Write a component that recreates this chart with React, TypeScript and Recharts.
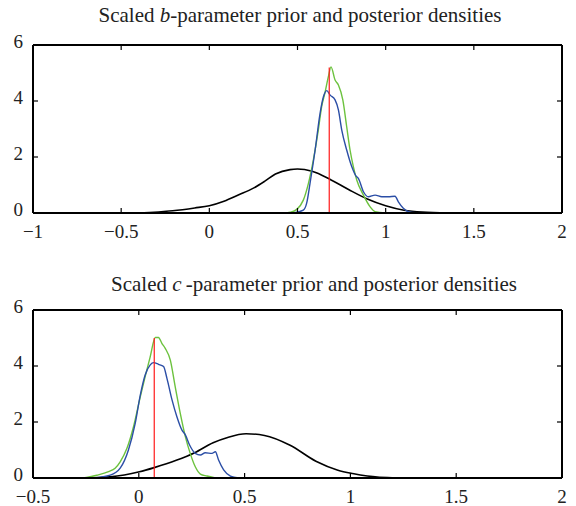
import { Line, LineChart, ReferenceLine, XAxis, YAxis } from 'recharts'

const yTicks = [0, 2, 4, 6]
const bXTicks = [-1, -0.5, 0, 0.5, 1, 1.5, 2]
const cXTicks = [-0.5, 0, 0.5, 1, 1.5, 2]

// b-parameter panel
const bPriorX = [-0.4, -0.208, -0.083, 0, 0.083, 0.167, 0.25, 0.313, 0.375, 0.458, 0.5, 0.583, 0.688, 0.792, 0.896, 1.0, 1.104, 1.208, 1.354]
const bPriorY = [0, 0.08, 0.18, 0.26, 0.42, 0.65, 0.89, 1.13, 1.39, 1.55, 1.57, 1.49, 1.19, 0.83, 0.5, 0.26, 0.1, 0.03, 0]
const bGreenX = [0.42, 0.46, 0.496, 0.533, 0.562, 0.59, 0.618, 0.637, 0.656, 0.675, 0.69, 0.713, 0.732, 0.757, 0.779, 0.798, 0.817, 0.836, 0.874, 0.911, 0.94, 1.0]
const bGreenY = [0, 0.03, 0.13, 0.46, 1.06, 1.9, 2.96, 3.8, 4.3, 4.87, 5.22, 4.75, 4.57, 4.04, 3.08, 2.25, 1.65, 1.18, 0.64, 0.23, 0.05, 0]
const bBlueX = [0.477, 0.533, 0.552, 0.571, 0.6, 0.628, 0.647, 0.666, 0.685, 0.713, 0.732, 0.751, 0.779, 0.808, 0.832, 0.845, 0.874, 0.902, 0.94, 0.978, 1.015, 1.053, 1.072, 1.1, 1.138, 1.21]
const bBlueY = [0, 0.1, 0.35, 1.06, 2.25, 3.56, 4.15, 4.37, 4.21, 4.04, 3.68, 2.96, 2.25, 1.65, 1.32, 1.24, 0.76, 0.58, 0.64, 0.58, 0.58, 0.6, 0.4, 0.17, 0.03, 0]
const bTrue = [0.68, 5.2]

// c-parameter panel
const cPriorX = [-0.257, -0.135, 0.003, 0.073, 0.177, 0.264, 0.351, 0.42, 0.507, 0.594, 0.715, 0.837, 0.941, 1.01, 1.08, 1.219]
const cPriorY = [0, 0.04, 0.22, 0.37, 0.63, 0.9, 1.26, 1.45, 1.58, 1.52, 1.17, 0.6, 0.28, 0.16, 0.07, 0]
const cGreenX = [-0.262, -0.198, -0.143, -0.112, -0.088, -0.056, -0.025, 0.007, 0.03, 0.054, 0.078, 0.093, 0.109, 0.125, 0.149, 0.172, 0.196, 0.22, 0.243, 0.267, 0.291, 0.322, 0.362]
const cGreenY = [0, 0.1, 0.23, 0.35, 0.58, 1.06, 1.83, 2.9, 3.62, 4.33, 5.02, 5.02, 4.81, 4.63, 4.21, 3.26, 2.31, 1.48, 0.88, 0.4, 0.14, 0.07, 0]
const cBlueX = [-0.214, -0.135, -0.088, -0.049, -0.017, 0.007, 0.03, 0.054, 0.07, 0.093, 0.117, 0.133, 0.157, 0.18, 0.204, 0.22, 0.24, 0.267, 0.291, 0.314, 0.346, 0.362, 0.377, 0.401, 0.433, 0.472]
const cBlueY = [0, 0.1, 0.35, 1.0, 1.95, 2.96, 3.68, 4.04, 4.12, 4.06, 3.98, 3.56, 2.79, 2.19, 1.71, 1.54, 1.18, 0.88, 0.82, 0.9, 0.88, 0.94, 0.64, 0.29, 0.07, 0]
const cTrue = [0.073, 5.0]

const FONT = '"Liberation Serif", "DejaVu Serif", serif'
const GREEN = '#6cc23e'
const BLUE = '#2b4ea6'
const RED = '#ff1a1a'

const pts = (xs: number[], ys: number[]) => xs.map((x, i) => ({ x, y: ys[i] }))

const fmt = (v: number) => (v < 0 ? '\u2212' + Math.abs(v) : String(v))

const XTick = ({ x, y, payload }: any) => (
  <g>
    <line x1={x} y1={y} x2={x} y2={y - 5} stroke="#000" strokeWidth={1.2} />
    <text x={x} y={y + 25} textAnchor="middle" fontFamily={FONT} fontSize={19} fill="#222">
      {fmt(payload.value)}
    </text>
  </g>
)

const YTick = ({ x, y, payload }: any) => (
  <g>
    <line x1={x} y1={y} x2={x + 5} y2={y} stroke="#000" strokeWidth={1.2} />
    <text x={x - 10} y={y + 3} textAnchor="end" fontFamily={FONT} fontSize={19} fill="#222">
      {fmt(payload.value)}
    </text>
  </g>
)

type PanelProps = {
  xTicks: number[]
  prior: { x: number; y: number }[]
  green: { x: number; y: number }[]
  blue: { x: number; y: number }[]
  truth: number[]
  height: number
  top: number
}

const Panel = ({ xTicks, prior, green, blue, truth, height, top }: PanelProps) => {
  const xMin = xTicks[0]
  const xMax = xTicks[xTicks.length - 1]
  const yMax = yTicks[yTicks.length - 1]
  const plotW = 529
  const plotH = 168
  const xLen = ((xMax - xMin) * 5) / plotW
  const yLen = (yMax * 5) / plotH
  const redLine = [
    { x: truth[0], y: 0 },
    { x: truth[0], y: truth[1] },
  ]
  return (
    <LineChart
      width={576}
      height={height}
      margin={{ top, right: 14, bottom: height - top - plotH - 1, left: 32 }}
    >
      <XAxis
        dataKey="x"
        type="number"
        domain={[xMin, xMax]}
        ticks={xTicks}
        interval={0}
        height={1}
        tickSize={0}
        tickMargin={0}
        tickLine={false}
        tick={<XTick />}
        axisLine={{ stroke: '#000', strokeWidth: 2 }}
        allowDataOverflow
      />
      <YAxis
        type="number"
        domain={[0, yMax]}
        ticks={yTicks}
        interval={0}
        width={1}
        tickSize={0}
        tickMargin={0}
        tickLine={false}
        tick={<YTick />}
        axisLine={{ stroke: '#000', strokeWidth: 2 }}
        allowDataOverflow
      />
      <ReferenceLine y={yMax} stroke="#000" strokeWidth={2} ifOverflow="visible" />
      <ReferenceLine x={xMax} stroke="#000" strokeWidth={2} ifOverflow="visible" />
      <ReferenceLine y={0} stroke="#000" strokeWidth={2} ifOverflow="visible" />
      <ReferenceLine x={xMin} stroke="#000" strokeWidth={2} ifOverflow="visible" />
      {xTicks.slice(1, -1).map((t) => (
        <ReferenceLine
          key={'tx' + t}
          segment={[
            { x: t, y: yMax },
            { x: t, y: yMax - yLen },
          ]}
          stroke="#000"
          strokeWidth={1.2}
          ifOverflow="visible"
        />
      ))}
      {yTicks.slice(1, -1).map((t) => (
        <ReferenceLine
          key={'ty' + t}
          segment={[
            { x: xMax, y: t },
            { x: xMax - xLen, y: t },
          ]}
          stroke="#000"
          strokeWidth={1.2}
          ifOverflow="visible"
        />
      ))}
      <Line data={prior} dataKey="y" type="monotone" stroke="#000" strokeWidth={1.6} dot={false} isAnimationActive={false} />
      <Line data={green} dataKey="y" type="monotone" stroke={GREEN} strokeWidth={1.4} dot={false} isAnimationActive={false} />
      <Line data={blue} dataKey="y" type="monotone" stroke={BLUE} strokeWidth={1.4} dot={false} isAnimationActive={false} />
      <Line data={redLine} dataKey="y" type="linear" stroke={RED} strokeWidth={1.2} dot={false} isAnimationActive={false} />
    </LineChart>
  )
}

const titleStyle = (top: number, center: number): React.CSSProperties => ({
  position: 'absolute',
  top,
  left: center - 300,
  width: 600,
  textAlign: 'center',
  fontFamily: FONT,
  fontSize: 21,
  lineHeight: '24px',
  color: '#222',
  whiteSpace: 'nowrap',
})

export default function App() {
  return (
    <div style={{ position: 'absolute', left: 0, top: 0, width: 576, height: 506, background: '#fff' }}>
      <div style={titleStyle(3, 300)}>
        Scaled <i>b</i>-parameter prior and posterior densities
      </div>
      <div style={{ position: 'absolute', left: 0, top: 0 }}>
        <Panel
          xTicks={bXTicks}
          prior={pts(bPriorX, bPriorY)}
          green={pts(bGreenX, bGreenY)}
          blue={pts(bBlueX, bBlueY)}
          truth={bTrue}
          height={245}
          top={45}
        />
      </div>
      <div style={titleStyle(272, 314)}>
        Scaled <i>c</i>&#8201;-parameter prior and posterior densities
      </div>
      <div style={{ position: 'absolute', left: 0, top: 260 }}>
        <Panel
          xTicks={cXTicks}
          prior={pts(cPriorX, cPriorY)}
          green={pts(cGreenX, cGreenY)}
          blue={pts(cBlueX, cBlueY)}
          truth={cTrue}
          height={246}
          top={50}
        />
      </div>
    </div>
  )
}
